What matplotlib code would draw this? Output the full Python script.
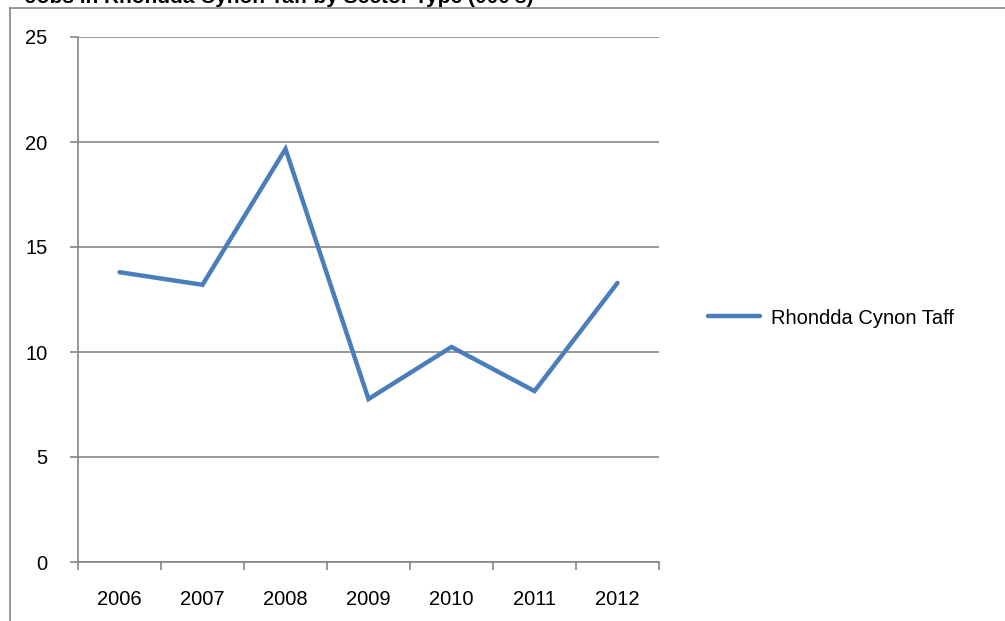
import matplotlib
matplotlib.use("Agg")
import matplotlib.pyplot as plt
from matplotlib.lines import Line2D

# data
years = ['2006', '2007', '2008', '2009', '2010', '2011', '2012']
values = [13.8, 13.2, 19.67, 7.76, 10.24, 8.14, 13.29]
series_name = 'Rhondda Cynon Taff'
title_text = "Jobs in Rhondda Cynon Taff by Sector Type (000's)"

plt.rcParams['font.family'] = ['Liberation Sans', 'DejaVu Sans']

W, H = 1005, 621
fig = plt.figure(figsize=(W / 100, H / 100), dpi=100)
ax = fig.add_axes([78 / W, 1 - 562 / H, (659 - 78) / W, (562 - 37) / H])

gray = '#868686'
xpos = [i + 0.5 for i in range(len(years))]
line, = ax.plot(xpos, values, color='#4a7ebb', linewidth=3.2, solid_capstyle='round',
                solid_joinstyle='miter', label=series_name)

ax.set_xlim(0, len(years))
ax.set_ylim(0, 25)
ax.set_yticks(range(0, 26, 5))
ax.set_xticks(range(len(years) + 1))
ax.set_xticklabels([])
ax.set_xticks(xpos, minor=True)
ax.set_xticklabels(years, minor=True)
ax.tick_params(axis='x', which='major', length=6, color=gray, width=1.2, direction='out')
ax.tick_params(axis='x', which='minor', length=0, pad=20, labelsize=14.5)
ax.tick_params(axis='y', length=6, color=gray, width=1.2, pad=16, labelsize=14.5)

ax.yaxis.grid(True, color=gray, linewidth=1.2)
ax.set_axisbelow(True)
for s in ['top', 'right']:
    ax.spines[s].set_visible(False)
for s in ['left', 'bottom']:
    ax.spines[s].set_color(gray)
    ax.spines[s].set_linewidth(1.2)

fig.legend(handles=[line], loc='center left', bbox_to_anchor=(690 / W, 1 - 318 / H),
           frameon=False, fontsize=14.5, handlelength=2.6, handletextpad=0.5)

# outer chart border (cut off by the image edge)
fig.add_artist(Line2D([10 / W, 10 / W], [0, 1 - 8 / H], transform=fig.transFigure,
                      color=gray, linewidth=1.2))
fig.add_artist(Line2D([10 / W, 1], [1 - 8 / H, 1 - 8 / H], transform=fig.transFigure,
                      color=gray, linewidth=1.2))

# title is mostly clipped at the top of the image
fig.text(25 / W, 1 - 3 / H, title_text, fontsize=15, fontweight='bold', va='baseline')

fig.savefig('out.png', dpi=100)
